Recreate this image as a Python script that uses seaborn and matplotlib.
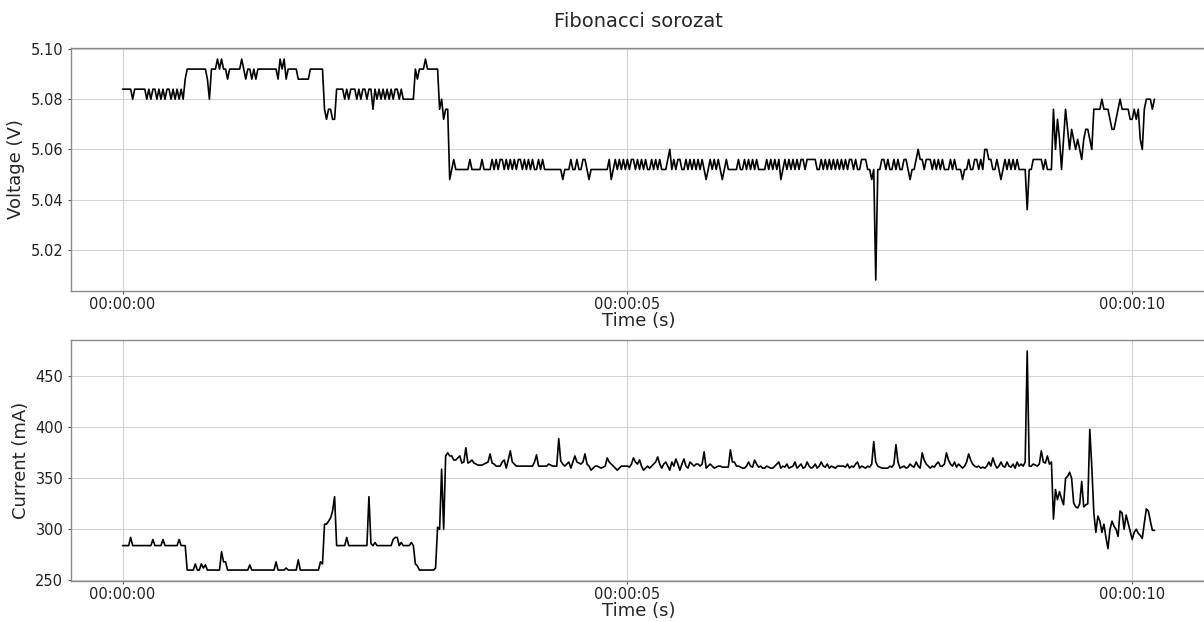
import numpy as np
import pandas as pd
import matplotlib
matplotlib.use("Agg")
import matplotlib.pyplot as plt
from matplotlib.ticker import FuncFormatter, FixedLocator
import seaborn as sns

# ---------------- data ----------------
sample_interval_s = 0.02

voltage_mv = [
    5084, 5084, 5084, 5084, 5084, 5080, 5084, 5084, 5084, 5084,
    5084, 5084, 5080, 5084, 5080, 5084, 5084, 5080, 5084, 5080,
    5084, 5080, 5084, 5084, 5080, 5084, 5080, 5084, 5080, 5084,
    5080, 5088, 5092, 5092, 5092, 5092, 5092, 5092, 5092, 5092,
    5092, 5092, 5088, 5080, 5092, 5092, 5092, 5096, 5092, 5096,
    5092, 5092, 5088, 5092, 5092, 5092, 5092, 5092, 5092, 5096,
    5092, 5088, 5092, 5092, 5088, 5092, 5088, 5092, 5092, 5092,
    5092, 5092, 5092, 5092, 5092, 5092, 5092, 5088, 5096, 5092,
    5096, 5088, 5092, 5092, 5092, 5092, 5092, 5088, 5088, 5088,
    5088, 5088, 5088, 5092, 5092, 5092, 5092, 5092, 5092, 5092,
    5076, 5072, 5076, 5076, 5072, 5072, 5084, 5084, 5084, 5084,
    5080, 5084, 5080, 5084, 5084, 5084, 5080, 5084, 5080, 5084,
    5084, 5080, 5084, 5084, 5076, 5084, 5080, 5084, 5080, 5084,
    5080, 5084, 5080, 5084, 5080, 5084, 5084, 5080, 5084, 5080,
    5080, 5080, 5080, 5080, 5080, 5092, 5088, 5092, 5092, 5092,
    5096, 5092, 5092, 5092, 5092, 5092, 5092, 5076, 5080, 5072,
    5076, 5076, 5048, 5052, 5056, 5052, 5052, 5052, 5052, 5052,
    5052, 5052, 5056, 5052, 5052, 5052, 5052, 5052, 5056, 5052,
    5052, 5052, 5052, 5056, 5052, 5056, 5052, 5056, 5056, 5052,
    5056, 5052, 5056, 5052, 5056, 5052, 5056, 5056, 5052, 5056,
    5052, 5056, 5052, 5056, 5052, 5052, 5056, 5052, 5056, 5052,
    5052, 5052, 5052, 5052, 5052, 5052, 5052, 5052, 5048, 5052,
    5052, 5052, 5056, 5052, 5052, 5056, 5052, 5052, 5056, 5056,
    5052, 5048, 5052, 5052, 5052, 5052, 5052, 5052, 5052, 5052,
    5052, 5056, 5048, 5052, 5056, 5052, 5056, 5052, 5056, 5052,
    5056, 5052, 5056, 5056, 5052, 5056, 5052, 5056, 5052, 5056,
    5052, 5052, 5056, 5052, 5056, 5052, 5056, 5052, 5052, 5052,
    5056, 5060, 5052, 5056, 5052, 5056, 5056, 5052, 5052, 5056,
    5052, 5056, 5052, 5056, 5052, 5056, 5052, 5056, 5052, 5048,
    5052, 5056, 5052, 5056, 5052, 5056, 5052, 5048, 5052, 5056,
    5052, 5052, 5052, 5052, 5052, 5056, 5052, 5052, 5056, 5052,
    5056, 5052, 5056, 5052, 5056, 5052, 5052, 5052, 5052, 5056,
    5052, 5056, 5052, 5056, 5052, 5056, 5048, 5052, 5056, 5052,
    5056, 5052, 5056, 5052, 5056, 5052, 5056, 5056, 5052, 5056,
    5056, 5056, 5056, 5056, 5052, 5052, 5056, 5052, 5056, 5052,
    5056, 5052, 5056, 5052, 5056, 5052, 5056, 5052, 5056, 5052,
    5056, 5056, 5052, 5056, 5052, 5052, 5056, 5056, 5056, 5052,
    5052, 5048, 5052, 5008, 5052, 5052, 5056, 5056, 5052, 5056,
    5052, 5052, 5056, 5052, 5056, 5052, 5052, 5056, 5056, 5052,
    5048, 5052, 5052, 5056, 5060, 5056, 5056, 5052, 5056, 5056,
    5056, 5052, 5056, 5052, 5056, 5052, 5056, 5052, 5052, 5052,
    5056, 5052, 5056, 5052, 5052, 5052, 5048, 5052, 5052, 5056,
    5052, 5052, 5056, 5056, 5052, 5056, 5052, 5060, 5060, 5056,
    5056, 5052, 5052, 5056, 5052, 5048, 5052, 5056, 5052, 5056,
    5052, 5056, 5052, 5056, 5052, 5052, 5052, 5052, 5036, 5052,
    5052, 5056, 5056, 5056, 5056, 5056, 5052, 5056, 5052, 5052,
    5052, 5076, 5060, 5072, 5064, 5052, 5064, 5076, 5068, 5060,
    5068, 5064, 5060, 5064, 5060, 5056, 5064, 5068, 5068, 5064,
    5060, 5076, 5076, 5076, 5076, 5080, 5076, 5076, 5076, 5072,
    5068, 5068, 5072, 5076, 5080, 5076, 5076, 5076, 5076, 5072,
    5072, 5076, 5072, 5076, 5064, 5060, 5076, 5080, 5080, 5080,
    5076, 5080,
]

current_ma = [
    284, 284, 284, 284, 292, 284, 284, 284, 284, 284,
    284, 284, 284, 284, 284, 290, 284, 284, 284, 284,
    290, 284, 284, 284, 284, 284, 284, 284, 290, 284,
    284, 284, 260, 260, 260, 260, 266, 260, 260, 266,
    262, 265, 260, 260, 260, 260, 260, 260, 260, 278,
    268, 268, 260, 260, 260, 260, 260, 260, 260, 260,
    260, 260, 260, 265, 260, 260, 260, 260, 260, 260,
    260, 260, 260, 260, 260, 260, 268, 260, 260, 260,
    260, 262, 260, 260, 260, 260, 260, 270, 260, 260,
    260, 260, 260, 260, 260, 260, 260, 260, 268, 266,
    305, 305, 308, 311, 318, 332, 284, 284, 284, 284,
    284, 292, 284, 284, 284, 284, 284, 284, 284, 284,
    284, 284, 332, 286, 284, 287, 284, 284, 284, 284,
    284, 284, 284, 284, 290, 292, 292, 284, 287, 284,
    284, 284, 284, 287, 284, 266, 264, 260, 260, 260,
    260, 260, 260, 260, 260, 262, 302, 300, 359, 300,
    372, 375, 372, 372, 368, 368, 370, 372, 365, 366,
    380, 365, 366, 368, 365, 364, 363, 363, 363, 364,
    365, 366, 374, 365, 364, 362, 362, 362, 366, 368,
    360, 368, 377, 366, 364, 362, 362, 362, 362, 362,
    362, 362, 362, 362, 366, 373, 362, 362, 362, 362,
    362, 364, 363, 362, 362, 362, 389, 367, 364, 362,
    364, 366, 360, 366, 372, 366, 365, 364, 366, 374,
    364, 362, 358, 360, 362, 362, 361, 360, 361, 362,
    370, 366, 364, 362, 360, 358, 360, 362, 362, 362,
    362, 361, 364, 370, 366, 364, 368, 362, 358, 360,
    362, 360, 362, 364, 366, 371, 364, 360, 364, 366,
    362, 358, 366, 362, 369, 364, 358, 364, 369, 362,
    360, 366, 364, 362, 364, 364, 362, 364, 376, 360,
    362, 364, 362, 360, 361, 362, 362, 361, 361, 361,
    361, 378, 366, 366, 362, 362, 361, 360, 360, 362,
    366, 362, 361, 368, 364, 361, 362, 360, 360, 362,
    361, 360, 360, 362, 364, 366, 360, 362, 361, 364,
    360, 361, 362, 366, 360, 362, 364, 360, 361, 366,
    362, 360, 361, 364, 360, 362, 366, 362, 361, 364,
    360, 362, 361, 360, 362, 362, 362, 362, 361, 364,
    360, 362, 361, 364, 366, 360, 362, 361, 360, 362,
    361, 364, 386, 366, 362, 361, 360, 360, 360, 360,
    362, 361, 364, 383, 366, 360, 361, 362, 360, 361,
    364, 362, 361, 366, 362, 360, 375, 368, 364, 362,
    360, 362, 361, 364, 366, 362, 362, 364, 375, 368,
    364, 362, 366, 361, 364, 362, 360, 362, 366, 374,
    368, 364, 362, 361, 362, 360, 361, 360, 362, 366,
    362, 370, 364, 360, 362, 366, 362, 361, 366, 362,
    361, 364, 360, 366, 362, 364, 362, 366, 475, 362,
    362, 364, 363, 362, 364, 377, 366, 365, 372, 364,
    366, 310, 339, 329, 337, 330, 324, 350, 352, 356,
    350, 326, 322, 321, 325, 347, 322, 324, 325, 398,
    361, 316, 297, 313, 308, 297, 305, 292, 281, 300,
    308, 303, 300, 293, 318, 316, 300, 314, 306, 298,
    290, 297, 300, 296, 294, 291, 306, 320, 318, 308,
    299, 299,
]

x_tick_seconds = [0, 5, 10]
voltage_ticks = [5.02, 5.04, 5.06, 5.08, 5.10]
current_ticks = [250, 300, 350, 400, 450]

title_text = "Fibonacci sorozat"
x_label = "Time (s)"
voltage_label = "Voltage (V)"
current_label = "Current (mA)"

# ---------------- frame ----------------
n = len(voltage_mv)
df = pd.DataFrame({
    "time": np.arange(n) * sample_interval_s,
    "voltage": np.array(voltage_mv) / 1000.0,
    "current": np.array(current_ma[:n]),
})

# ---------------- style ----------------
sns.set_theme(style="whitegrid")
plt.rcParams.update({
    "font.family": ["DejaVu Sans"],
    "axes.edgecolor": "#8a8a8a",
    "axes.linewidth": 1.0,
    "grid.color": "#d3d3d3",
    "grid.linewidth": 0.8,
    "xtick.bottom": True,
    "ytick.left": True,
    "xtick.color": "#555555",
    "ytick.color": "#555555",
    "xtick.labelcolor": "#222222",
    "ytick.labelcolor": "#222222",
    "xtick.major.size": 2.5,
    "ytick.major.size": 2.5,
    "xtick.major.pad": 1.5,
    "ytick.major.pad": 3,
    "xtick.major.width": 0.8,
    "ytick.major.width": 0.8,
    "xtick.labelsize": 10.5,
    "ytick.labelsize": 10.5,
    "axes.labelsize": 13,
})

W, H = 1204, 622
fig = plt.figure(figsize=(W / 100, H / 100), dpi=100)
left = 71 / W
width = (1206 - 71) / W
ax1 = fig.add_axes([left, 1 - 291 / H, width, (291 - 48) / H])
ax2 = fig.add_axes([left, 1 - 581 / H, width, (581 - 340) / H])

sns.lineplot(data=df, x="time", y="voltage", ax=ax1, color="black",
             linewidth=1.2, estimator=None)
sns.lineplot(data=df, x="time", y="current", ax=ax2, color="black",
             linewidth=1.2, estimator=None)

fmt = FuncFormatter(lambda v, p: "00:00:%02d" % int(round(v)))
for ax, ticks, lab in ((ax1, voltage_ticks, voltage_label),
                       (ax2, current_ticks, current_label)):
    ax.xaxis.set_major_locator(FixedLocator(x_tick_seconds))
    ax.xaxis.set_major_formatter(fmt)
    ax.yaxis.set_major_locator(FixedLocator(ticks))
    ax.set_xlabel(x_label, labelpad=0)
    ax.set_ylabel(lab, labelpad=4)
    ax.spines["right"].set_visible(False)
    ax.grid(True)
    ax.margins(x=0.05, y=0.05)

ax1.yaxis.set_major_formatter(FuncFormatter(lambda v, p: "%.2f" % v))
ax1.set_title(title_text, fontsize=14, pad=15)

fig.savefig("out.png", dpi=100)
